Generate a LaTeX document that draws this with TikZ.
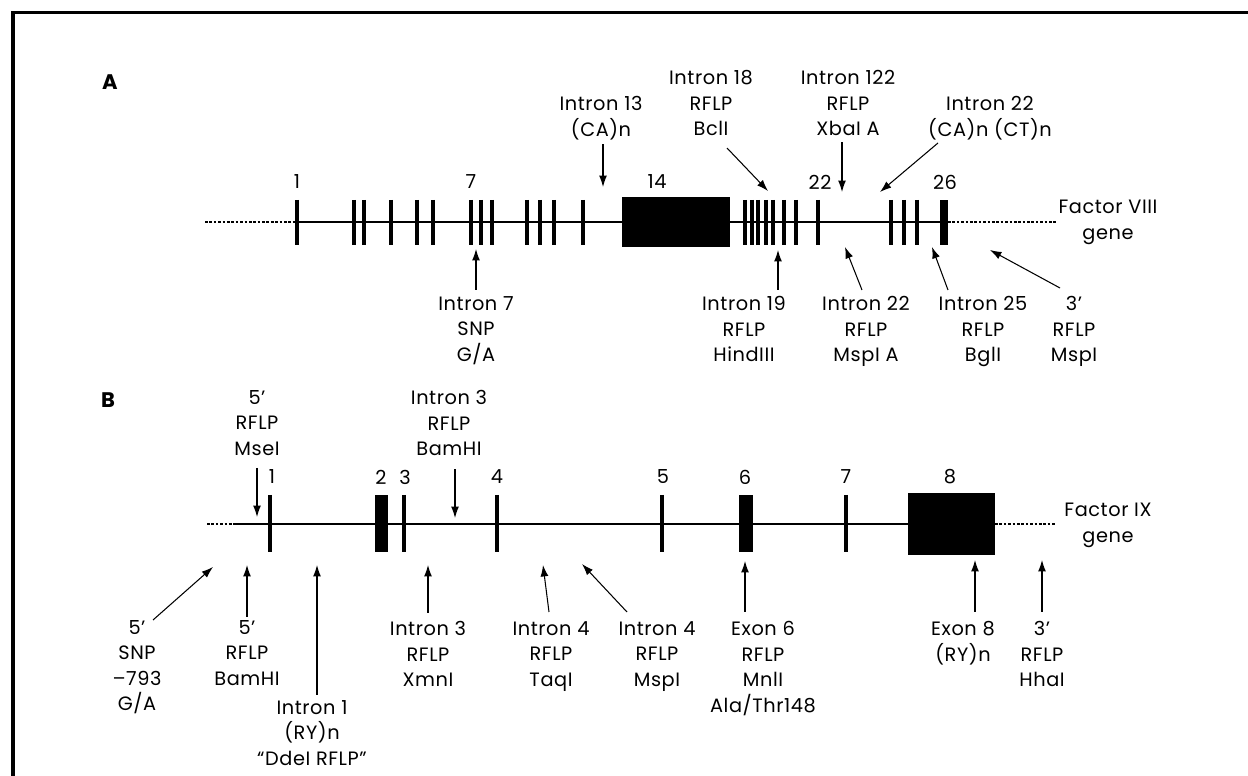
\documentclass[tikz,border=0pt]{standalone}
\usepackage{fontspec}
\setmainfont{Poppins}[LetterSpace=3]
\usetikzlibrary{arrows.meta}

\begin{document}
\begin{tikzpicture}[x=0.02cm, y=-0.02cm,
    lbl/.style={align=center, inner sep=0pt, anchor=north, font=\fontsize{11}{14.5}\selectfont},
    num/.style={inner sep=0pt, font=\fontsize{11}{14.5}\selectfont},
    arr/.style={line width=0.6pt, -{Latex[length=6.5pt,width=4.5pt]}},
    gene/.style={line width=0.9pt},
    utr/.style={line width=0.7pt, dash pattern=on 1.5pt off 1pt},
    exon/.style={line width=2.1pt},
    bigexon/.style={line width=2.6pt}]
  % parameters
  \def\ya{222}   % factor VIII line
  \def\yb{524}   % factor IX line

  % page and frame
  \useasboundingbox (0,0) rectangle (1248,776);
  \draw[line width=1.8pt] (13,776) -- (13,12.5) -- (1248,12.5);

  % A: factor VIII gene
  \node[num, font=\fontsize{12}{14}\selectfont\bfseries] (pA) at (110,82) {A};
  \draw[utr] (205,\ya) -- (297,\ya);
  \draw[gene] (297,\ya) -- (940,\ya);
  \draw[utr] (948,\ya) -- (1057,\ya);
  \foreach \x in {354,364,391,417,433,481,492,527,540,554,583,
                  745,752,758,766,773,784,796,818,891,904,917}
    \draw[exon] (\x,200) -- (\x,245);
  \foreach \x in {297,471}
    \draw[bigexon] (\x,200) -- (\x,245);
  \fill (622,197) rectangle (730,247);
  \fill (940,200) rectangle (948,245);
  \foreach \x/\n in {297/1,471/7,657/14,820/22,945/26}
    \node[num] (a\n) at (\x,182) {\n};
  \node[lbl] (f8) at (1108,200) {Factor VIII\\gene};

  % A: markers above
  \coordinate (t13) at (603,187);
  \coordinate (t18) at (768,191);
  \coordinate (t122) at (842,192);
  \coordinate (t22c) at (880,192);
  \node[lbl] (i13) at (601,96) {Intron 13\\(CA)n};
  \node[lbl] (i18) at (711,70) {Intron 18\\RFLP\\BclI};
  \node[lbl] (i122) at (848,70) {Intron 122\\RFLP\\XbaI A};
  \node[lbl] (i22c) at (990,96) {Intron 22\\(CA)n (CT)n};
  \draw[arr] (i13.south -| t13) ++(0,4) -- (t13);
  \draw[arr] (i18.south) ++(16,12) -- (t18);
  \draw[arr] (i122.south -| t122) ++(0,6) -- (t122);
  \draw[arr] (i22c.south) ++(-52,3) -- (t22c);

  % A: markers below
  \coordinate (t7) at (476,249);
  \coordinate (t19) at (778,250);
  \coordinate (t22b) at (845,247);
  \coordinate (t25) at (932,247);
  \coordinate (t3a) at (990,250);
  \node[lbl] (i7) at (476,296) {Intron 7\\SNP\\G/A};
  \node[lbl] (i19) at (744,296) {Intron 19\\RFLP\\HindIII};
  \node[lbl] (i22b) at (866,296) {Intron 22\\RFLP\\MspI A};
  \node[lbl] (i25) at (983,296) {Intron 25\\RFLP\\BglI};
  \node[lbl] (r3a) at (1074,296) {3’\\RFLP\\MspI};
  \draw[arr] (i7.north -| t7) ++(0,-6) -- (t7);
  \draw[arr] (i19.north -| t19) ++(0,-6) -- (t19);
  \draw[arr] (i22b.north) ++(-4,-6) -- (t22b);
  \draw[arr] (i25.north) ++(-35,-6) -- (t25);
  \draw[arr] (r3a.north) ++(-14,-8) -- (t3a);

  % B: factor IX gene
  \node[num, font=\fontsize{12}{14}\selectfont\bfseries] (pB) at (108,400) {B};
  \draw[utr] (207,\yb) -- (235,\yb);
  \draw[gene] (235,\yb) -- (908,\yb);
  \draw[line width=1.3pt] (235,\yb) -- (318,\yb);
  \draw[utr] (995,\yb) -- (1055,\yb);
  \foreach \x in {270,404,662}
    \draw[exon] (\x,495) -- (\x,552);
  \foreach \x in {497,846}
    \draw[bigexon] (\x,495) -- (\x,552);
  \fill (375,495) rectangle (388,552);
  \fill (739,495) rectangle (753,552);
  \fill (908,493) rectangle (995,555);
  \foreach \x/\n in {272/1,381/2,405/3,497/4,663/5,745/6,846/7,950/8}
    \node[num] (b\n) at (\x,477) {\n};
  \node[lbl] (f9) at (1108,503) {Factor IX\\gene};

  % B: markers above
  \coordinate (tm5) at (257,517);
  \coordinate (tb3) at (455,518);
  \node[lbl] (m5) at (257,390) {5’\\RFLP\\MseI};
  \node[lbl] (b3) at (449,390) {Intron 3\\RFLP\\BamHI};
  \draw[arr] (m5.south -| tm5) ++(0,12) -- (tm5);
  \draw[arr] (b3.south -| tb3) ++(0,13) -- (tb3);

  % B: markers below
  \coordinate (ts5) at (213,567);
  \coordinate (tr5) at (247,565);
  \coordinate (ti1) at (317,565);
  \coordinate (tx3) at (428,565);
  \coordinate (tq4) at (543,565);
  \coordinate (tp4) at (582,564);
  \coordinate (te6) at (745,561);
  \coordinate (te8) at (975,560);
  \coordinate (th3) at (1042,560);
  \node[lbl] (s5) at (137,620) {5’\\SNP\\–793\\G/A};
  \node[lbl] (r5) at (247,620) {5’\\RFLP\\BamHI};
  \node[lbl] (i1) at (312,700) {Intron 1\\(RY)n\\“DdeI RFLP”};
  \node[lbl] (x3) at (428,621) {Intron 3\\RFLP\\XmnI};
  \node[lbl] (q4) at (551,621) {Intron 4\\RFLP\\TaqI};
  \node[lbl] (p4) at (657,621) {Intron 4\\RFLP\\MspI};
  \node[lbl] (e6) at (763,621) {Exon 6\\RFLP\\MnlI\\Ala/Thr148};
  \node[lbl] (e8) at (963,621) {Exon 8\\(RY)n};
  \node[lbl] (h3) at (1042,621) {3’\\RFLP\\HhaI};
  \draw[arr] (s5.north) ++(16,0) -- (ts5);
  \draw[arr] (r5.north -| tr5) ++(0,-3) -- (tr5);
  \draw[arr] (i1.north -| ti1) ++(0,-5) -- (ti1);
  \draw[arr] (x3.north -| tx3) ++(0,-8) -- (tx3);
  \draw[arr] (q4.north) ++(-2,-9) -- (tq4);
  \draw[arr] (p4.north) ++(-30,-9) -- (tp4);
  \draw[arr] (e6.north -| te6) ++(0,-9) -- (te6);
  \draw[arr] (e8.north -| te8) ++(0,-9) -- (te8);
  \draw[arr] (h3.north -| th3) ++(0,-9) -- (th3);
\end{tikzpicture}
\end{document}
